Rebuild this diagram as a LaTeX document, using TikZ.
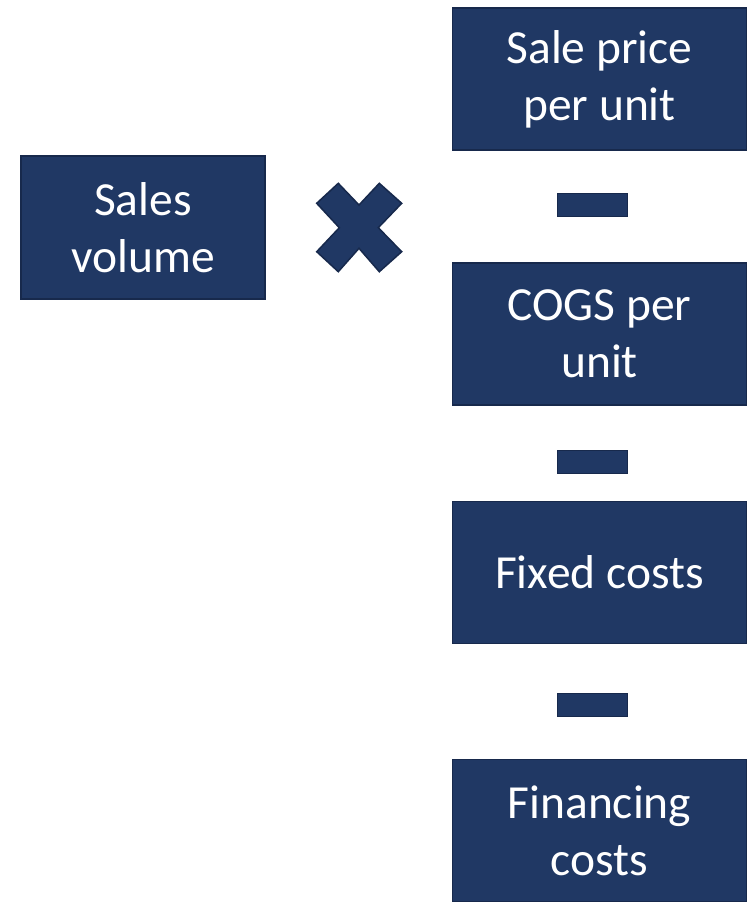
\documentclass[tikz,border=0pt]{standalone}
\usepackage{fontspec}
\setmainfont{Carlito}
\usetikzlibrary{positioning}
\definecolor{navy}{RGB}{32,56,100}
\definecolor{navyline}{RGB}{23,41,76}

\tikzset{
  block/.style={rectangle,fill=navy,draw=navyline,line width=1.5pt,text=white,
    align=center,font=\fontsize{47.5}{57}\selectfont,inner sep=0pt},
  minus/.style={rectangle,fill=navy,draw=navyline,line width=1pt,
    minimum width=70pt,minimum height=23pt,inner sep=0pt}
}

\begin{document}
\begin{tikzpicture}[x=1pt,y=-1pt]
    \useasboundingbox (0,0) rectangle (748,906);
    % left factor
    \node[block,minimum width=244pt,minimum height=143pt] (volume) at (143,227.5) {Sales\\volume};
    % right column of terms
    \foreach \t/\y [count=\i] in {Sale price\\per unit/79, COGS per\\unit/334, Fixed costs/572.5, Financing\\costs/830.5}
    {
      \node[block,minimum width=294pt,minimum height=142pt] (term\i) at (599.5,\y) {\t};
    }
    % minus signs between the terms
    \foreach \i/\y in {1/205, 2/461.5, 3/704.5}
    {
      \node[minus] (sub\i) at (592,\y) {};
    }
    % times sign
    \draw[fill=navy,draw=navyline,line width=1.5pt]
      (316.7,203.3) -- (338.3,183.3) -- (359,205) -- (379.3,183.3) -- (401.7,203.3)
      -- (378.3,227.7) -- (401.7,251.7) -- (379.3,271.7) -- (359,248.3) -- (338.3,271.7)
      -- (316.7,251.7) -- (339.3,227.7) -- cycle;
  \end{tikzpicture}
\end{document}
